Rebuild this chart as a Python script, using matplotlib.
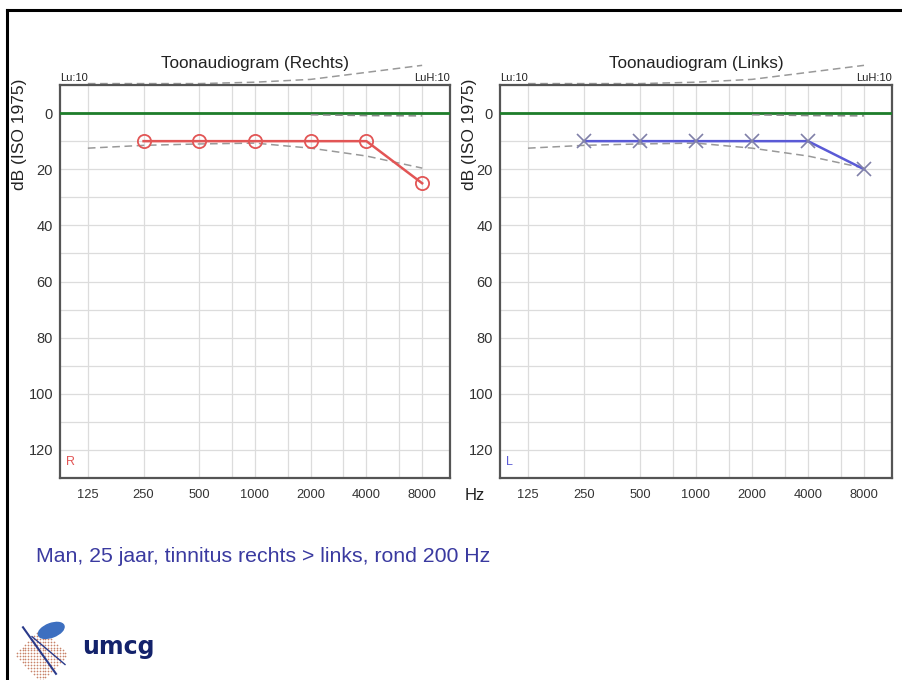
import numpy as np
import matplotlib
matplotlib.use('Agg')
import matplotlib.pyplot as plt
from matplotlib.patches import Ellipse

plt.rcParams['font.family'] = ['Liberation Sans', 'DejaVu Sans']

# --- data ---
freq_labels = ['125', '250', '500', '1000', '2000', '4000', '8000']
meas_freqs = ['250', '500', '1000', '2000', '4000', '8000']
right_db = [10, 10, 10, 10, 10, 25]
left_db = [10, 10, 10, 10, 10, 20]
ref_lower = [12.5, 11.5, 11, 10.7, 12.5, 15.3, 19.6]
ref_upper = [-10.5, -10.5, -10.5, -11, -12, -14.5, -17]
near_zero_freqs = ['2000', '4000', '8000']
near_zero_db = [0.6, 0.9, 1.0]
mid_octaves = [750, 1500, 3000, 6000]
y_ticks = [0, 20, 40, 60, 80, 100, 120]

W, H = 903, 680


def fpos(f):
    return np.log2(float(f) / 125.0)


def draw_audiogram(ax, title, db, color, marker, ear_letter):
    ax.set_xlim(-0.5, 6.5)
    ax.set_ylim(130, -10)
    ax.set_xticks([fpos(f) for f in freq_labels])
    ax.set_xticks([fpos(f) for f in mid_octaves], minor=True)
    ax.set_yticks(np.arange(-10, 131, 10), minor=True)
    ax.set_yticks(y_ticks)
    ax.set_xticklabels(freq_labels, fontsize=9.3, color='#333333')
    ax.set_yticklabels([str(v) for v in y_ticks], fontsize=10.5, color='#333333')
    ax.tick_params(which='both', length=0)
    ax.tick_params(axis='x', pad=8)
    ax.tick_params(axis='y', pad=5)
    ax.grid(which='both', color='#dcdcdc', lw=0.9)
    ax.set_axisbelow(True)
    for sp in ax.spines.values():
        sp.set_color('#555555')
        sp.set_linewidth(1.6)

    ax.axhline(0, color='#1e7d2a', lw=2.0, zorder=3)
    xs = [fpos(f) for f in freq_labels]
    ax.plot(xs, ref_lower, ls=(0, (5, 3)), color='#999999', lw=1.1, zorder=2)
    ax.plot(xs, ref_upper, ls=(0, (5, 3)), color='#999999', lw=1.1,
            clip_on=False, zorder=2)
    ax.plot([fpos(f) for f in near_zero_freqs], near_zero_db,
            ls=(0, (5, 3)), color='#888888', lw=1.1, zorder=4)

    mx = [fpos(f) for f in meas_freqs]
    if marker == 'o':
        ax.plot(mx, db, color=color, lw=1.8, marker='o', ms=9.5,
                mfc='none', mec=color, mew=1.3, zorder=5)
    else:
        ax.plot(mx, db, color=color, lw=1.8, zorder=5)
        ax.plot(mx, db, ls='none', marker='x', ms=10, mew=1.2,
                color='#8080a8', zorder=6)

    ax.set_title(title, fontsize=12.3, pad=12, color='#222222')
    ax.text(0.0, 1.006, 'Lu:10', transform=ax.transAxes, fontsize=8,
            ha='left', va='bottom', color='#222222')
    ax.text(1.0, 1.006, 'LuH:10', transform=ax.transAxes, fontsize=8,
            ha='right', va='bottom', color='#222222')
    ax.text(0.015, 0.025, ear_letter, transform=ax.transAxes, fontsize=9,
            color=color, ha='left', va='bottom')


fig = plt.figure(figsize=(W / 100, H / 100), dpi=100)

ax_r = fig.add_axes([60 / W, 1 - 478 / H, 390 / W, 393 / H])
ax_l = fig.add_axes([500 / W, 1 - 478 / H, 392 / W, 393 / H])
draw_audiogram(ax_r, 'Toonaudiogram (Rechts)', right_db, '#e25555', 'o', 'R')
draw_audiogram(ax_l, 'Toonaudiogram (Links)', left_db, '#5a5ad6', 'x', 'L')

# y labels near the top of the axes
for x in (20, 470):
    fig.text(x / W, 1 - 134 / H, 'dB (ISO 1975)', rotation=90, fontsize=12.5,
             ha='center', va='center', color='#222222')
fig.text(475 / W, 1 - 496 / H, 'Hz', fontsize=12, ha='center', va='center',
         color='#222222')

# slide frame
fig.add_artist(plt.Line2D([7 / W, 7 / W], [0, 1 - 10 / H], color='black',
                          lw=2.2, transform=fig.transFigure))
fig.add_artist(plt.Line2D([7 / W, 902 / W], [1 - 10 / H, 1 - 10 / H],
                          color='black', lw=2.2, transform=fig.transFigure))

fig.text(36 / W, 1 - 557 / H, 'Man, 25 jaar, tinnitus rechts > links, rond 200 Hz',
         fontsize=15.3, color='#3a3aa0', ha='left', va='center')

# logo
fig.text(82 / W, 1 - 647 / H, 'umcg', fontsize=17, fontweight='bold',
         color='#13226b', family='DejaVu Sans', ha='left', va='center')
lax = fig.add_axes([14 / W, 1 - 680 / H, 60 / W, 62 / H])
lax.set_xlim(0, 1)
lax.set_ylim(0, 1)
lax.axis('off')
gx, gy = np.meshgrid(np.linspace(0, 1, 22), np.linspace(0, 1, 22))
mask = (np.abs(gx - 0.45) + np.abs(gy - 0.4)) < 0.45
lax.scatter(gx[mask], gy[mask], s=1.5, color='#c9836a', lw=0)
lax.plot([0.15, 0.7], [0.85, 0.1], color='#2a3a8a', lw=1.5)
lax.plot([0.3, 0.85], [0.7, 0.25], color='#2a3a8a', lw=1.0)
lax.add_patch(Ellipse((0.62, 0.8), 0.45, 0.22, angle=20, color='#3d6fc0'))

fig.savefig('out.png', dpi=100)
